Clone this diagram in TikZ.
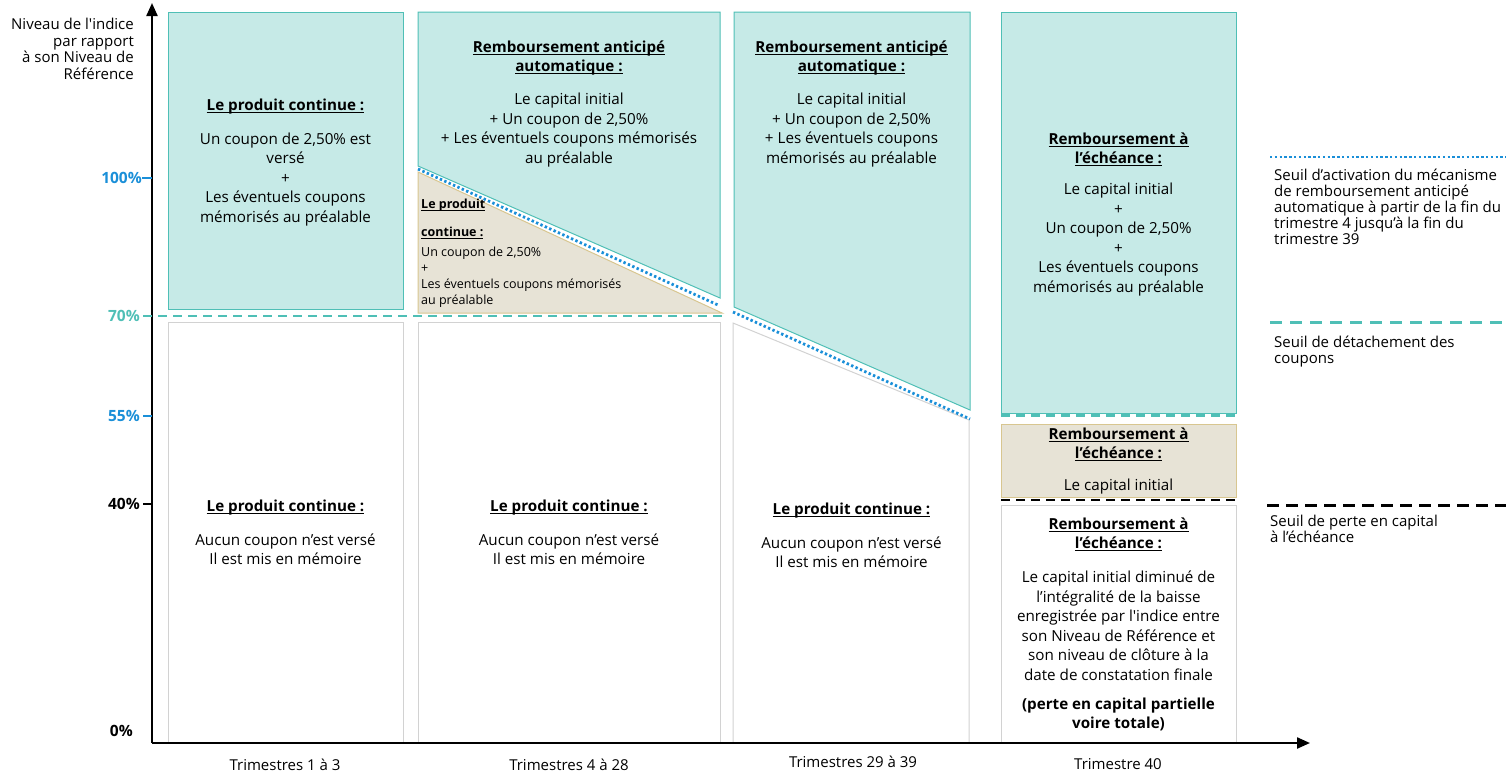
\documentclass[tikz,border=0pt]{standalone}
\usepackage{fontspec}
\setmainfont{Open Sans}
\usepackage{tikz}
\usetikzlibrary{arrows.meta,positioning,calc}

\definecolor{tealfill}{HTML}{C6EAE7}
\definecolor{tealline}{HTML}{4FBFB6}
\definecolor{tanfill}{HTML}{E7E3D6}
\definecolor{tanline}{HTML}{D8C690}
\definecolor{greyline}{HTML}{D2D2D2}
\definecolor{bluedot}{HTML}{1A8FD8}

\newsavebox{\titrebox}
\newcommand{\titre}[1]{\sbox{\titrebox}{\textbf{#1}}\rlap{\rule[-2.4pt]{\wd\titrebox}{0.9pt}}\usebox{\titrebox}}

\begin{document}
\begin{tikzpicture}[
    x=1pt, y=-1pt,
    remb/.style={draw=tealline, fill=tealfill, line width=1pt},
    tanbox/.style={draw=tanline, fill=tanfill, line width=1pt},
    vide/.style={draw=greyline, fill=white, line width=1pt},
    txt/.style={inner sep=0pt, align=center, anchor=north, font=\fontsize{15.2}{19.5}\selectfont},
    petit/.style={inner sep=0pt, align=left, anchor=north west, font=\fontsize{12.5}{16}\selectfont},
    legende/.style={inner sep=0pt, align=left, anchor=north west, font=\fontsize{15}{16}\selectfont},
    pct/.style={inner sep=0pt, anchor=east, font=\fontsize{15.5}{17}\selectfont\bfseries},
    trim/.style={inner sep=0pt, font=\fontsize{15}{17}\selectfont},
    activation/.style={draw=bluedot, line width=2.8pt, dash pattern=on 2.4pt off 2.4pt},
    coupon/.style={draw=tealline, line width=2.5pt, dash pattern=on 9pt off 6pt},
    perte/.style={draw=black, line width=2.5pt, dash pattern=on 9pt off 6pt},
    tick/.style={line width=2pt},
    axe/.style={line width=2.2pt, -{Triangle[length=13pt,width=11pt]}}
]
\useasboundingbox (0,0) rectangle (1506,774);

% Colonne 1
\draw[remb] (168,12) rectangle (403,309);
\draw[vide] (168,322) rectangle (403,743);

% Colonne 2
\draw[remb] (418,12) -- (720,12) -- (720,298) -- (418,166) -- cycle;
\draw[tanbox] (418,172) -- (722,313) -- (418,313) -- cycle;
\draw[vide] (418,322) rectangle (720,743);

% Colonne 3
\draw[remb] (734,12) -- (970,12) -- (970,410) -- (734,307) -- cycle;
\draw[vide] (733,323) -- (969,420) -- (969,743) -- (733,743) -- cycle;

% Colonne 4
\draw[remb] (1001,12) rectangle (1236,413);
\draw[tanbox] (1001,424) rectangle (1236,497);
\draw[vide] (1001,505) rectangle (1236,743);

% Seuils
\draw[coupon] (158,316) -- (722,316);
\draw[coupon] (1001,415.5) -- (1236,415.5);
\draw[perte] (1001,500) -- (1236,500);
\draw[activation] (418,169) -- (718,305);
\draw[activation] (733,312) -- (970,419);

% Axes
\coordinate (O) at (152,743);
\coordinate (ytop) at (152,3);
\coordinate (xend) at (1310,743);
\draw[axe] (O) -- (ytop);
\draw[axe] (O) -- (xend);

\node[inner sep=0pt, align=right, anchor=north east, font=\fontsize{15}{16.7}\selectfont] (titreaxe) at (134,18)
    {Niveau de l\textquotesingle indice\\par rapport\\à son Niveau de\\Référence};

% Graduations
\node[pct, bluedot] (p100) at (142,178) {100\%};
\node[pct, tealline] (p70) at (140,316) {70\%};
\node[pct, bluedot] (p55) at (140,416) {55\%};
\node[pct] (p40) at (140,504) {40\%};
\node[pct] (p0) at (133,731) {0\%};
\draw[tick, bluedot] (p100.east) -- (p100.east -| O);
\draw[tick, tealline] ([xshift=3pt]p70.east) -- (p70.east -| O);
\draw[tick, bluedot] ([xshift=3pt]p55.east) -- (p55.east -| O);
\draw[tick] ([xshift=3pt]p40.east) -- (p40.east -| O);

% Textes colonne 1
\node[txt] (c1haut) at (285.5,98.5) {\titre{Le produit continue :}\\[14.5pt]Un coupon de 2,50\% est\\versé\\+\\Les éventuels coupons\\mémorisés au préalable};
\node[txt] (c1bas) at (285.5,499.5) {\titre{Le produit continue :}\\[14.5pt]Aucun coupon n’est versé\\Il est mis en mémoire};

% Textes colonne 2
\node[txt] (c2haut) at (569,40.5) {\titre{Remboursement anticipé}\\\titre{automatique :}\\[13.5pt]Le capital initial\\+ Un coupon de 2,50\%\\+ Les éventuels coupons mémorisés\\au préalable};
\node[petit] (c2milieu) at (421,199) {\titre{Le produit}\\[12pt]\titre{continue :}\\[4pt]Un coupon de 2,50\%\\+\\Les éventuels coupons mémorisés\\au préalable};
\node[txt] (c2bas) at (569,499.5) {\titre{Le produit continue :}\\[14.5pt]Aucun coupon n’est versé\\Il est mis en mémoire};

% Textes colonne 3
\node[txt] (c3haut) at (851.5,40.5) {\titre{Remboursement anticipé}\\\titre{automatique :}\\[13.5pt]Le capital initial\\+ Un coupon de 2,50\%\\+ Les éventuels coupons\\mémorisés au préalable};
\node[txt] (c3bas) at (851.5,502.5) {\titre{Le produit continue :}\\[14.5pt]Aucun coupon n’est versé\\Il est mis en mémoire};

% Textes colonne 4
\node[txt] (c4haut) at (1118.5,132.5) {\titre{Remboursement à}\\\titre{l’échéance :}\\[11.5pt]Le capital initial\\+\\Un coupon de 2,50\%\\+\\Les éventuels coupons\\mémorisés au préalable};
\node[txt] (c4milieu) at (1118.5,427.5) {\titre{Remboursement à}\\\titre{l’échéance :}\\[12.5pt]Le capital initial};
\node[txt] (c4bas) at (1118.5,517.5) {\titre{Remboursement à}\\\titre{l’échéance :}\\[14.5pt]Le capital initial diminué de\\l’intégralité de la baisse\\enregistrée par l\textquotesingle indice entre\\son Niveau de Référence et\\son niveau de clôture à la\\date de constatation finale\\[9.5pt]\textbf{(perte en capital partielle}\\\textbf{voire totale)}};

% Legende
\coordinate (l1a) at (1270,157);
\coordinate (l1b) at (1506,157);
\draw[activation] (l1a) -- (l1b);
\node[legende] (leg1) at (1274,169) {Seuil d’activation du mécanisme\\de remboursement anticipé\\automatique à partir de la fin du\\trimestre 4 jusqu’à la fin du\\trimestre 39};
\coordinate (l2a) at (1270,322);
\coordinate (l2b) at (1506,322);
\draw[coupon, dash pattern=on 12pt off 8pt, line width=3pt] (l2a) -- (l2b);
\node[legende] (leg2) at (1274,336) {Seuil de détachement des\\coupons};
\coordinate (l3a) at (1267,505);
\coordinate (l3b) at (1506,505);
\draw[perte, dash pattern=on 12pt off 7pt, line width=3pt] (l3a) -- (l3b);
\node[legende] (leg3) at (1270,515) {Seuil de perte en capital\\à l’échéance};

% Periodes
\node[trim] (t1) at (285,764.5) {Trimestres 1 à 3};
\node[trim] (t2) at (569,764.5) {Trimestres 4 à 28};
\node[trim] (t3) at (853,762) {Trimestres 29 à 39};
\node[trim] (t4) at (1118,764.5) {Trimestre 40};

\end{tikzpicture}
\end{document}
